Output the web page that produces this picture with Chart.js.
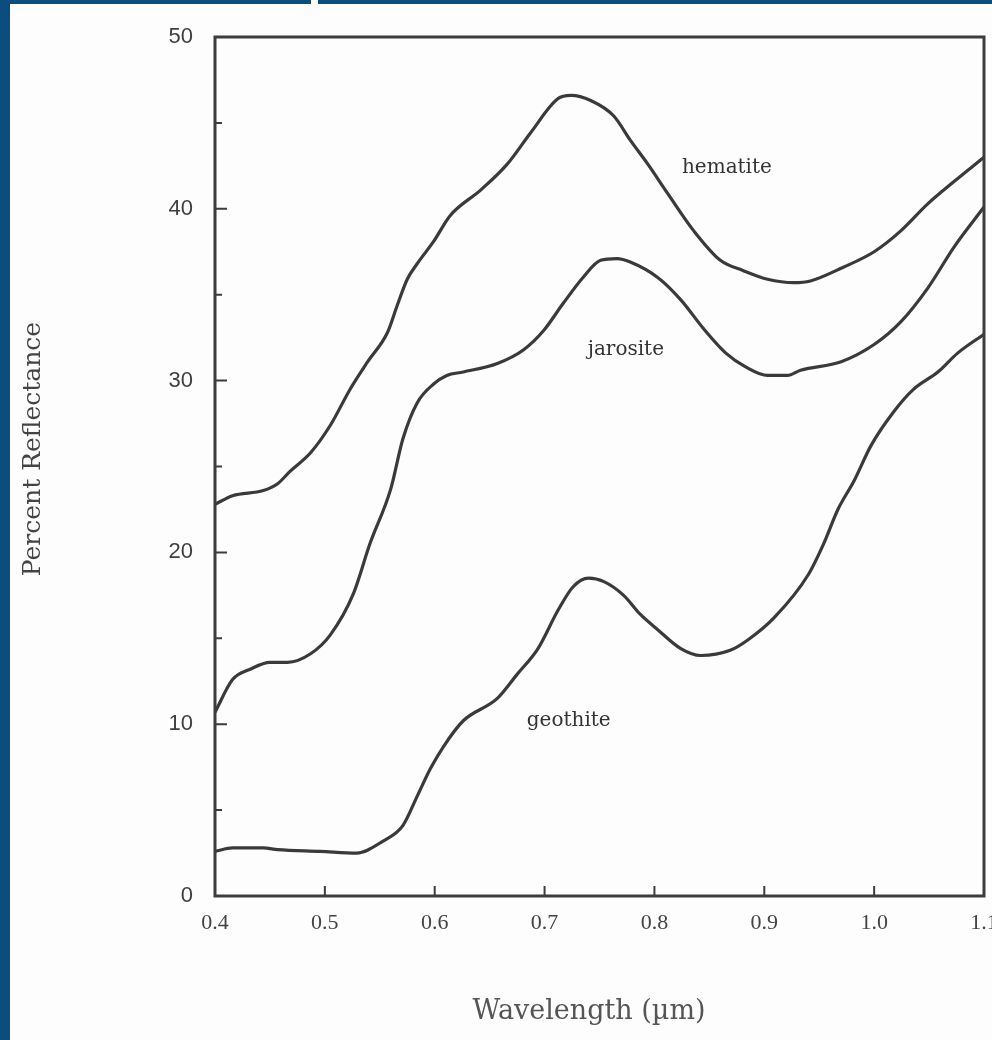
<!DOCTYPE html>
<html>
<head>
<meta charset="utf-8">
<script src="https://cdn.jsdelivr.net/npm/chart.js@4.4.1/dist/chart.umd.min.js"></script>
<style>
  html, body { margin: 0; padding: 0; background: #fdfdfd; }
  #wrap { position: relative; width: 992px; height: 1040px; overflow: hidden; }
  #c { position: absolute; left: 0; top: 0; }
  .band { position: absolute; background: #0b4e7e; z-index: 2; }
</style>
</head>
<body>
<div id="wrap">
  <canvas id="c" width="992" height="1040"></canvas>
  <div class="band" style="left:0;top:0;width:10px;height:1040px;"></div>
  <div class="band" style="left:0;top:0;width:311px;height:4px;"></div>
  <div class="band" style="left:318px;top:0;width:674px;height:4px;"></div>
</div>
<script>
// ---- data ----
const hematiteWl  = [0.400,0.416,0.444,0.457,0.468,0.487,0.505,0.523,0.539,0.557,0.566,0.575,0.584,0.599,0.614,0.642,0.666,0.687,0.712,0.724,0.742,0.763,0.778,0.794,0.812,0.836,0.860,0.881,0.903,0.927,0.942,0.972,1.000,1.024,1.049,1.073,1.100];
const hematiteRef = [22.8,23.3,23.6,24.0,24.7,25.8,27.4,29.5,31.1,32.8,34.4,35.9,36.8,38.1,39.6,41.1,42.6,44.4,46.4,46.6,46.3,45.4,44.0,42.6,40.9,38.7,37.0,36.4,35.9,35.7,35.8,36.6,37.5,38.7,40.3,41.6,43.0];

const jarositeWl  = [0.400,0.416,0.432,0.450,0.466,0.487,0.505,0.526,0.541,0.560,0.571,0.584,0.599,0.611,0.626,0.657,0.681,0.699,0.717,0.735,0.751,0.766,0.778,0.803,0.824,0.845,0.865,0.883,0.903,0.921,0.933,0.970,1.000,1.024,1.049,1.073,1.100];
const jarositeRef = [10.7,12.6,13.2,13.6,13.6,14.1,15.2,17.6,20.5,23.7,26.6,28.7,29.8,30.3,30.5,31.0,31.8,32.9,34.5,36.0,37.0,37.1,36.9,36.0,34.7,33.0,31.6,30.8,30.3,30.3,30.6,31.1,32.1,33.4,35.4,37.8,40.1];

const geothiteWl  = [0.400,0.416,0.444,0.457,0.496,0.529,0.553,0.571,0.584,0.596,0.608,0.626,0.657,0.675,0.694,0.712,0.726,0.740,0.754,0.772,0.787,0.803,0.824,0.842,0.869,0.885,0.909,0.940,0.954,0.967,0.982,0.997,1.018,1.036,1.058,1.076,1.100];
const geothiteRef = [2.6,2.8,2.8,2.7,2.6,2.5,3.2,4.1,5.8,7.4,8.7,10.2,11.5,12.9,14.4,16.6,18.0,18.5,18.3,17.5,16.4,15.5,14.4,14.0,14.3,14.9,16.2,18.7,20.5,22.5,24.2,26.2,28.2,29.5,30.5,31.6,32.7];

const curveNames  = ['hematite', 'jarosite', 'geothite'];
const labelWl     = [0.866, 0.774, 0.722];
const labelRef    = [42.4, 31.8, 10.2];

const xTickValues = [0.4,0.5,0.6,0.7,0.8,0.9,1.0,1.1];
const yTickValues = [0,10,20,30,40,50];
const xTitle = 'Wavelength (µm)';
const yTitle = 'Percent Reflectance';

const pts = (xs, ys) => xs.map((x, i) => ({ x: x, y: ys[i] }));
const lineColor = '#3a3a3a';

const framePlugin = {
  id: 'frame',
  afterDraw(chart) {
    const { ctx, chartArea: a, scales } = chart;
    const xs = scales.x, ys = scales.y;
    ctx.save();
    ctx.strokeStyle = '#3d3d3d';
    ctx.lineWidth = 3;
    ctx.strokeRect(a.left, a.top, a.right - a.left, a.bottom - a.top);
    ctx.lineWidth = 2;
    ctx.beginPath();
    xTickValues.slice(1, -1).forEach(v => {
      const px = xs.getPixelForValue(v);
      ctx.moveTo(px, a.bottom);
      ctx.lineTo(px, a.bottom - 10);
    });
    for (let v = 5; v < 50; v += 5) {
      const py = ys.getPixelForValue(v);
      ctx.moveTo(a.left, py);
      ctx.lineTo(a.left + (v % 10 === 0 ? 12 : 7), py);
    }
    ctx.stroke();
    // curve labels
    ctx.fillStyle = '#333';
    ctx.font = '20px "DejaVu Serif", serif';
    ctx.textAlign = 'center';
    ctx.textBaseline = 'middle';
    curveNames.forEach((n, i) => {
      ctx.fillText(n, xs.getPixelForValue(labelWl[i]), ys.getPixelForValue(labelRef[i]));
    });
    // axis titles
    ctx.fillStyle = '#555';
    ctx.font = '27px "DejaVu Serif", serif';
    ctx.fillText(xTitle, 589, 1012);
    ctx.fillStyle = '#444';
    ctx.font = '25px "DejaVu Serif", serif';
    ctx.translate(33, 449);
    ctx.rotate(-Math.PI / 2);
    ctx.fillText(yTitle, 0, 0);
    ctx.restore();
  }
};

new Chart(document.getElementById('c'), {
  type: 'line',
  data: {
    datasets: [
      { label: curveNames[0], data: pts(hematiteWl, hematiteRef) },
      { label: curveNames[1], data: pts(jarositeWl, jarositeRef) },
      { label: curveNames[2], data: pts(geothiteWl, geothiteRef) }
    ].map(d => Object.assign(d, {
      borderColor: lineColor, borderWidth: 3.2, pointRadius: 0,
      cubicInterpolationMode: 'monotone', fill: false
    }))
  },
  options: {
    responsive: false,
    animation: false,
    events: [],
    layout: { padding: { left: 0, right: 8, top: 37, bottom: 0 } },
    plugins: { legend: { display: false }, tooltip: { enabled: false } },
    scales: {
      x: {
        type: 'linear', min: 0.4, max: 1.1,
        afterBuildTicks: s => { s.ticks = xTickValues.map(v => ({ value: v })); },
        afterFit: s => { s.height = 144; s.paddingLeft = 0; s.paddingRight = 0; },
        grid: { display: false },
        border: { display: false },
        ticks: {
          padding: 6, color: '#444', maxRotation: 0, autoSkip: false,
          font: { family: '"Liberation Serif", serif', size: 22 },
          callback: v => Number(v).toFixed(1)
        }
      },
      y: {
        type: 'linear', min: 0, max: 50,
        afterBuildTicks: s => { s.ticks = yTickValues.map(v => ({ value: v })); },
        afterFit: s => { s.width = 215; s.paddingTop = 0; s.paddingBottom = 0; },
        grid: { display: false },
        border: { display: false },
        ticks: {
          padding: 14, color: '#3f3f3f',
          font: { family: '"Liberation Sans", sans-serif', size: 22 }
        }
      }
    }
  },
  plugins: [framePlugin]
});
</script>
</body>
</html>
